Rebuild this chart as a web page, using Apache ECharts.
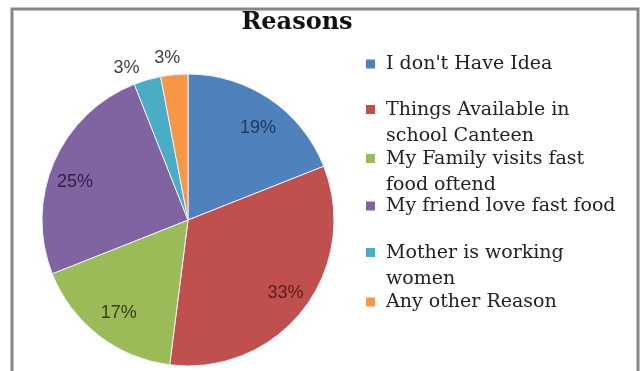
<!DOCTYPE html>
<html>
<head>
<meta charset="utf-8">
<script src="https://cdn.jsdelivr.net/npm/echarts@6/dist/echarts.min.js"></script>
<style>
  html, body { margin: 0; padding: 0; background: #fff; }
  #main { width: 640px; height: 371px; }
</style>
</head>
<body>
<div id="main"></div>
<script>
// data
var reasons = [
  "I don't Have Idea",
  "Things Available in school Canteen",
  "My Family visits fast food oftend",
  "My friend love fast food",
  "Mother is working women",
  "Any other Reason"
];
var shares = [19, 33, 17, 25, 3, 3];
// legend text as it is wrapped in the picture
var legendText = [
  "I don't Have Idea",
  "Things Available in\nschool Canteen",
  "My Family visits fast\nfood oftend",
  "My friend love fast food",
  "Mother is working\nwomen",
  "Any other Reason"
];

var colors = ["#4f81bd", "#c0504d", "#9bbb59", "#8064a2", "#4bacc6", "#f79646"];
var labelColors = ["#1f3962", "#5a1d1c", "#33421a", "#2f2147", "#404040", "#404040"];
var legendTop = [51, 97, 146, 193, 240, 289];
// small nudges so the percent labels sit where the picture has them
var labelShift = [[2, 8], [2, -1], [5, -3], [-2, 10], [-15, 8], [-5, 4]];

var myChart = echarts.init(document.getElementById("main"));

var pieData = reasons.map(function (name, i) {
  return { name: name, value: shares[i], itemStyle: { color: colors[i] } };
});

function labelItems(big) {
  return reasons.map(function (name, i) {
    var show = big ? shares[i] >= 5 : shares[i] < 5;
    return {
      name: name,
      value: shares[i],
      label: { show: show, color: labelColors[i] }
    };
  });
}

function shiftLabel(params) {
  var s = labelShift[params.dataIndex];
  return { dx: s[0], dy: s[1] };
}

var legends = reasons.map(function (name, i) {
  var twoLines = legendText[i].indexOf("\n") >= 0;
  return {
    left: 366,
    top: legendTop[i],
    padding: 0,
    orient: "vertical",
    itemWidth: 9,
    itemHeight: twoLines ? 36 : 9,
    selectedMode: false,
    itemStyle: { borderWidth: 0 },
    data: [{
      name: name,
      // square sits on the first line of a wrapped entry
      icon: twoLines ? "path://M0,0h9v9h-9z M0,36h0.01" : "rect"
    }],
    formatter: function () { return legendText[i]; },
    textStyle: {
      fontFamily: "DejaVu Serif",
      fontSize: 19,
      color: "#222",
      lineHeight: 26,
      padding: [0, 0, 0, 6]
    }
  };
});

var labelSeries = {
  type: "pie",
  center: [188, 220],
  startAngle: 90,
  clockwise: true,
  silent: true,
  legendHoverLink: false,
  itemStyle: { color: "rgba(0,0,0,0)", borderWidth: 0 },
  label: {
    position: "inside",
    formatter: "{c}%",
    fontFamily: "Liberation Sans",
    fontSize: 18
  },
  labelLine: { show: false },
  labelLayout: shiftLabel
};

var option = {
  animation: false,
  title: {
    text: "Reasons",
    left: 292,
    top: 6,
    textAlign: "center",
    textStyle: {
      fontFamily: "DejaVu Serif",
      fontWeight: "bold",
      fontSize: 24,
      color: "#111"
    }
  },
  graphic: [{
    type: "rect",
    shape: { x: 12, y: 9, width: 626, height: 380 },
    style: { fill: null, stroke: "#858585", lineWidth: 3 },
    silent: true
  }],
  legend: legends,
  series: [
    {
      name: "Reasons",
      type: "pie",
      center: [188, 220],
      radius: 146,
      startAngle: 90,
      clockwise: true,
      label: { show: false },
      labelLine: { show: false },
      itemStyle: { borderColor: "#eef", borderWidth: 1 },
      data: pieData
    },
    Object.assign({}, labelSeries, {
      name: "inner labels",
      radius: [90, 146],
      data: labelItems(true)
    }),
    Object.assign({}, labelSeries, {
      name: "outer labels",
      radius: [150, 178],
      data: labelItems(false)
    })
  ]
};
myChart.setOption(option);
</script>
</body>
</html>
